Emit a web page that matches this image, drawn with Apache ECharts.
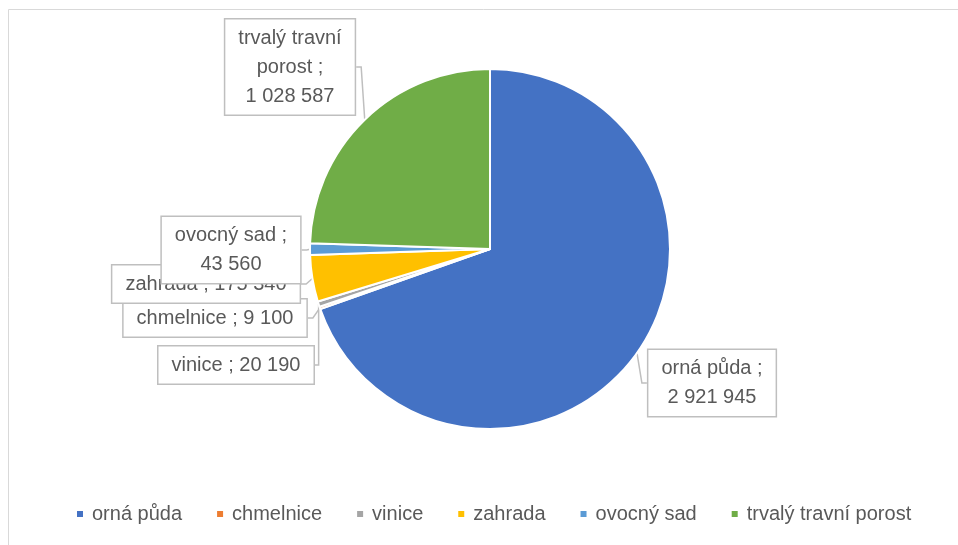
<!DOCTYPE html>
<html>
<head>
<meta charset="utf-8">
<script src="https://cdn.jsdelivr.net/npm/echarts@6/dist/echarts.min.js"></script>
<style>
  html, body { margin: 0; padding: 0; background: #fff; }
  #main { width: 958px; height: 545px; }
</style>
</head>
<body>
<div id="main"></div>
<script>
// data
var categories = ['orná půda', 'chmelnice', 'vinice', 'zahrada', 'ovocný sad', 'trvalý travní porost']
var values = [2921945, 9100, 20190, 175340, 43560, 1028587]
var colors = ['#4472C4', '#ED7D31', '#A5A5A5', '#FFC000', '#5B9BD5', '#70AD47']

// label boxes (centre of each callout) and how the text wraps
var labelPos = [[712, 383], [215, 318], [236, 365], [206, 284], [231, 250], [290, 67]]
var labelWrap = [
  function (n, v) { return n + ' ;\n' + v },
  function (n, v) { return n + ' ; ' + v },
  function (n, v) { return n + ' ; ' + v },
  function (n, v) { return n + ' ; ' + v },
  function (n, v) { return n + ' ;\n' + v },
  function (n, v) { return 'trvalý travní\nporost ;\n' + v }
]

function fmt(v) {
  return String(v).replace(/\B(?=(\d{3})+(?!\d))/g, ' ')
}

var myChart = echarts.init(document.getElementById('main'))
var option = {
  animation: false,
  color: colors,
  textStyle: { fontFamily: 'Liberation Sans' },
  graphic: [
    {
      type: 'rect',
      silent: true,
      z: -1,
      shape: { x: 8.5, y: 9.5, width: 1000, height: 600 },
      style: { fill: 'none', stroke: '#d9d9d9', lineWidth: 1 }
    }
  ],
  legend: {
    left: 70,
    top: 499,
    icon: 'rect',
    itemWidth: 8,
    itemHeight: 8,
    itemGap: 33,
    textStyle: { fontSize: 20, color: '#595959', padding: [0, 0, 0, 3] },
    data: categories
  },
  series: [
    {
      type: 'pie',
      center: [490, 249],
      radius: 180,
      startAngle: 90,
      clockwise: true,
      itemStyle: { borderColor: '#fff', borderWidth: 2 },
      label: {
        show: true,
        color: '#595959',
        fontSize: 20,
        lineHeight: 29,
        align: 'center',
        backgroundColor: '#fff',
        borderColor: '#bfbfbf',
        borderWidth: 1.5,
        padding: [4, 13],
        formatter: function (p) {
          return labelWrap[p.dataIndex](p.name, fmt(p.value))
        }
      },
      labelLine: {
        show: true,
        length: 5,
        length2: 5,
        lineStyle: { color: '#bfbfbf', width: 1.5 }
      },
      labelLayout: function (params) {
        var pos = labelPos[params.dataIndex]
        return { x: pos[0], y: pos[1], align: 'center', verticalAlign: 'middle' }
      },
      data: categories.map(function (c, i) {
        return { name: c, value: values[i] }
      })
    }
  ]
}
myChart.setOption(option)
</script>
</body>
</html>
